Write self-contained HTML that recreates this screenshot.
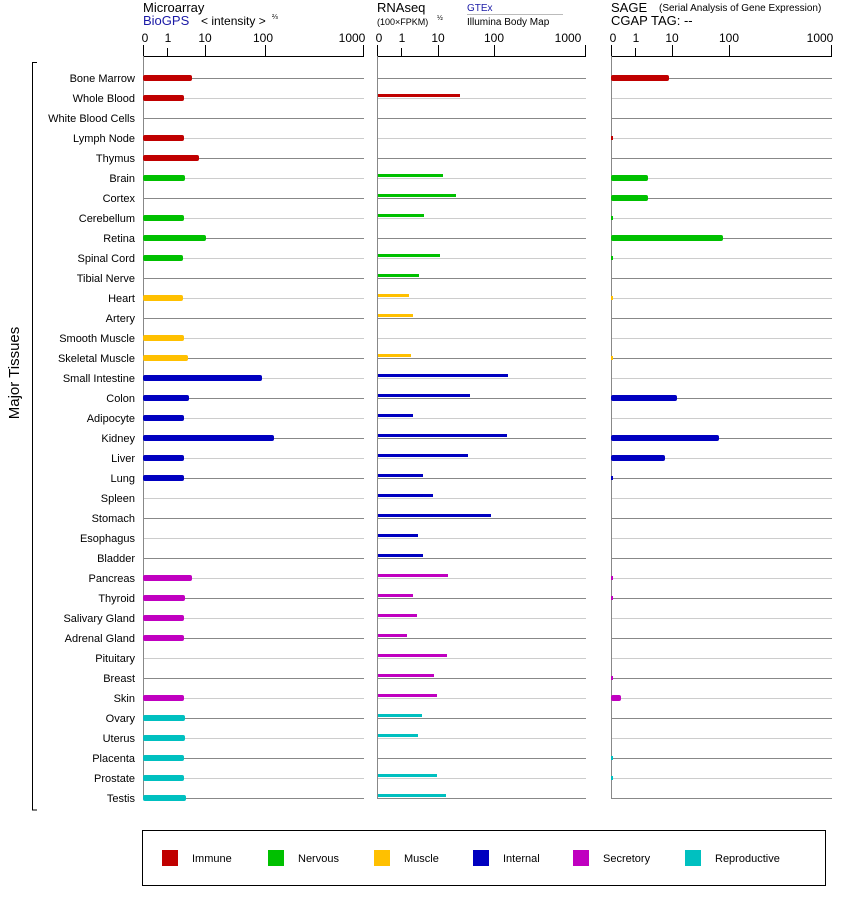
<!DOCTYPE html>
<html><head><meta charset="utf-8"><style>
body{margin:0;background:#fff}
svg{display:block;font-family:"Liberation Sans",Arial,sans-serif}
</style></head><body>
<svg width="842" height="900" viewBox="0 0 842 900" xmlns="http://www.w3.org/2000/svg">
<defs>
<pattern id="rows" patternUnits="userSpaceOnUse" x="0" y="78" width="842" height="40">
<rect x="0" y="0" width="842" height="1" fill="#888"/>
<rect x="0" y="20" width="842" height="1" fill="#ccc"/>
</pattern>
</defs>
<!-- headers -->
<g font-size="13" fill="#000">
<text x="143" y="12">Microarray</text>
<text x="143" y="25" fill="#1a1aa6">BioGPS</text>
<text x="201" y="25" font-size="12">&lt; intensity &gt;</text>
<text x="272" y="19" font-size="7">⅔</text>
<text x="377" y="12">RNAseq</text>
<text x="377" y="25" font-size="9">(100×FPKM)</text>
<text x="437" y="20" font-size="7">½</text>
<text x="467" y="11" font-size="10" fill="#1a1aa6">GTEx</text>
<rect x="467" y="14" width="96" height="1" fill="#bbb"/>
<text x="467" y="25" font-size="10">Illumina Body Map</text>
<text x="611" y="12">SAGE</text>
<text x="659" y="11" font-size="10">(Serial Analysis of Gene Expression)</text>
<text x="611" y="25">CGAP TAG:  --</text>
</g>
<!-- axes -->
<g stroke="#000" stroke-width="1" fill="none">
<path d="M143.5 45v11.5M167.5 48v8M205.5 45v11.5M265.5 45v11.5M363.5 45v11.5M143 56.5h221"/>
<path d="M377.5 45v11.5M401.5 48v8M438.5 45v11.5M494.5 45v11.5M585.5 45v11.5M377 56.5h209"/>
<path d="M611.5 45v11.5M635.5 48v8M672.5 45v11.5M729.5 45v11.5M831.5 45v11.5M611 56.5h221"/>
</g>
<g font-size="12" fill="#000" text-anchor="middle">
<text x="145" y="42">0</text><text x="168" y="42">1</text><text x="205" y="42">10</text><text x="263" y="42">100</text><text x="352" y="42">1000</text>
<text x="379" y="42">0</text><text x="402" y="42">1</text><text x="438" y="42">10</text><text x="494" y="42">100</text><text x="568" y="42">1000</text>
<text x="613" y="42">0</text><text x="636" y="42">1</text><text x="672" y="42">10</text><text x="729" y="42">100</text><text x="820" y="42">1000</text>
</g>
<g fill="#888">
<rect x="143" y="56" width="1" height="743"/>
<rect x="377" y="56" width="1" height="743"/>
<rect x="611" y="56" width="1" height="743"/>
</g>
<rect x="144" y="78" width="220" height="721" fill="url(#rows)"/>
<rect x="378" y="78" width="208" height="721" fill="url(#rows)"/>
<rect x="612" y="78" width="220" height="721" fill="url(#rows)"/>
<!-- bracket -->
<path d="M37 62.5h-4.5v747.5h4.5" stroke="#000" fill="none"/>
<text transform="translate(19,373) rotate(-90)" font-size="15" text-anchor="middle">Major Tissues</text>
<!-- labels -->
<g font-size="11" text-anchor="end" fill="#000">
<text x="135" y="82">Bone Marrow</text>
<text x="135" y="102">Whole Blood</text>
<text x="135" y="122">White Blood Cells</text>
<text x="135" y="142">Lymph Node</text>
<text x="135" y="162">Thymus</text>
<text x="135" y="182">Brain</text>
<text x="135" y="202">Cortex</text>
<text x="135" y="222">Cerebellum</text>
<text x="135" y="242">Retina</text>
<text x="135" y="262">Spinal Cord</text>
<text x="135" y="282">Tibial Nerve</text>
<text x="135" y="302">Heart</text>
<text x="135" y="322">Artery</text>
<text x="135" y="342">Smooth Muscle</text>
<text x="135" y="362">Skeletal Muscle</text>
<text x="135" y="382">Small Intestine</text>
<text x="135" y="402">Colon</text>
<text x="135" y="422">Adipocyte</text>
<text x="135" y="442">Kidney</text>
<text x="135" y="462">Liver</text>
<text x="135" y="482">Lung</text>
<text x="135" y="502">Spleen</text>
<text x="135" y="522">Stomach</text>
<text x="135" y="542">Esophagus</text>
<text x="135" y="562">Bladder</text>
<text x="135" y="582">Pancreas</text>
<text x="135" y="602">Thyroid</text>
<text x="135" y="622">Salivary Gland</text>
<text x="135" y="642">Adrenal Gland</text>
<text x="135" y="662">Pituitary</text>
<text x="135" y="682">Breast</text>
<text x="135" y="702">Skin</text>
<text x="135" y="722">Ovary</text>
<text x="135" y="742">Uterus</text>
<text x="135" y="762">Placenta</text>
<text x="135" y="782">Prostate</text>
<text x="135" y="802">Testis</text>
</g>
<!-- microarray bars -->
<g>
<g fill="#c00000">
<rect x="143" y="75" width="49" height="6" rx="2"/>
<rect x="143" y="95" width="41" height="6" rx="2"/>
<rect x="143" y="135" width="41" height="6" rx="2"/>
<rect x="143" y="155" width="56" height="6" rx="2"/>
</g>
<g fill="#00c000">
<rect x="143" y="175" width="42" height="6" rx="2"/>
<rect x="143" y="215" width="41" height="6" rx="2"/>
<rect x="143" y="235" width="63" height="6" rx="2"/>
<rect x="143" y="255" width="40" height="6" rx="2"/>
</g>
<g fill="#ffc000">
<rect x="143" y="295" width="40" height="6" rx="2"/>
<rect x="143" y="335" width="41" height="6" rx="2"/>
<rect x="143" y="355" width="45" height="6" rx="2"/>
</g>
<g fill="#0000c0">
<rect x="143" y="375" width="119" height="6" rx="2"/>
<rect x="143" y="395" width="46" height="6" rx="2"/>
<rect x="143" y="415" width="41" height="6" rx="2"/>
<rect x="143" y="435" width="131" height="6" rx="2"/>
<rect x="143" y="455" width="41" height="6" rx="2"/>
<rect x="143" y="475" width="41" height="6" rx="2"/>
</g>
<g fill="#c000c0">
<rect x="143" y="575" width="49" height="6" rx="2"/>
<rect x="143" y="595" width="42" height="6" rx="2"/>
<rect x="143" y="615" width="41" height="6" rx="2"/>
<rect x="143" y="635" width="41" height="6" rx="2"/>
<rect x="143" y="695" width="41" height="6" rx="2"/>
</g>
<g fill="#00c0c0">
<rect x="143" y="715" width="42" height="6" rx="2"/>
<rect x="143" y="735" width="42" height="6" rx="2"/>
<rect x="143" y="755" width="41" height="6" rx="2"/>
<rect x="143" y="775" width="41" height="6" rx="2"/>
<rect x="143" y="795" width="43" height="6" rx="2"/>
</g>
</g>
<!-- RNAseq bars -->
<g>
<rect x="378" y="94" width="82" height="3" fill="#c00000"/>
<g fill="#00c000">
<rect x="378" y="174" width="65" height="3"/>
<rect x="378" y="194" width="78" height="3"/>
<rect x="378" y="214" width="46" height="3"/>
<rect x="378" y="254" width="62" height="3"/>
<rect x="378" y="274" width="41" height="3"/>
</g>
<g fill="#ffc000">
<rect x="378" y="294" width="31" height="3"/>
<rect x="378" y="314" width="35" height="3"/>
<rect x="378" y="354" width="33" height="3"/>
</g>
<g fill="#0000c0">
<rect x="378" y="374" width="130" height="3"/>
<rect x="378" y="394" width="92" height="3"/>
<rect x="378" y="414" width="35" height="3"/>
<rect x="378" y="434" width="129" height="3"/>
<rect x="378" y="454" width="90" height="3"/>
<rect x="378" y="474" width="45" height="3"/>
<rect x="378" y="494" width="55" height="3"/>
<rect x="378" y="514" width="113" height="3"/>
<rect x="378" y="534" width="40" height="3"/>
<rect x="378" y="554" width="45" height="3"/>
</g>
<g fill="#c000c0">
<rect x="378" y="574" width="70" height="3"/>
<rect x="378" y="594" width="35" height="3"/>
<rect x="378" y="614" width="39" height="3"/>
<rect x="378" y="634" width="29" height="3"/>
<rect x="378" y="654" width="69" height="3"/>
<rect x="378" y="674" width="56" height="3"/>
<rect x="378" y="694" width="59" height="3"/>
</g>
<g fill="#00c0c0">
<rect x="378" y="714" width="44" height="3"/>
<rect x="378" y="734" width="40" height="3"/>
<rect x="378" y="774" width="59" height="3"/>
<rect x="378" y="794" width="68" height="3"/>
</g>
</g>
<!-- SAGE bars -->
<g>
<g fill="#c00000">
<rect x="611" y="75" width="58" height="6" rx="2"/>
<rect x="611" y="136" width="2" height="4"/>
</g>
<g fill="#00c000">
<rect x="611" y="175" width="37" height="6" rx="2"/>
<rect x="611" y="195" width="37" height="6" rx="2"/>
<rect x="611" y="216" width="2" height="4"/>
<rect x="611" y="235" width="112" height="6" rx="2"/>
<rect x="611" y="256" width="2" height="4"/>
</g>
<g fill="#ffc000">
<rect x="611" y="296" width="2" height="4"/>
<rect x="611" y="356" width="2" height="4"/>
</g>
<g fill="#0000c0">
<rect x="611" y="395" width="66" height="6" rx="2"/>
<rect x="611" y="435" width="108" height="6" rx="2"/>
<rect x="611" y="455" width="54" height="6" rx="2"/>
<rect x="611" y="476" width="2" height="4"/>
</g>
<g fill="#c000c0">
<rect x="611" y="576" width="2" height="4"/>
<rect x="611" y="596" width="2" height="4"/>
<rect x="611" y="676" width="2" height="4"/>
<rect x="611" y="695" width="10" height="6" rx="2"/>
</g>
<g fill="#00c0c0">
<rect x="611" y="756" width="2" height="4"/>
<rect x="611" y="776" width="2" height="4"/>
</g>
</g>
<!-- legend -->
<rect x="142.5" y="830.5" width="683" height="55" fill="none" stroke="#000"/>
<g font-size="11" fill="#000">
<rect x="162" y="850" width="16" height="16" fill="#c00000"/><text x="192" y="862">Immune</text>
<rect x="268" y="850" width="16" height="16" fill="#00c000"/><text x="298" y="862">Nervous</text>
<rect x="374" y="850" width="16" height="16" fill="#ffc000"/><text x="404" y="862">Muscle</text>
<rect x="473" y="850" width="16" height="16" fill="#0000c0"/><text x="503" y="862">Internal</text>
<rect x="573" y="850" width="16" height="16" fill="#c000c0"/><text x="603" y="862">Secretory</text>
<rect x="685" y="850" width="16" height="16" fill="#00c0c0"/><text x="715" y="862">Reproductive</text>
</g>
</svg>
</body></html>
